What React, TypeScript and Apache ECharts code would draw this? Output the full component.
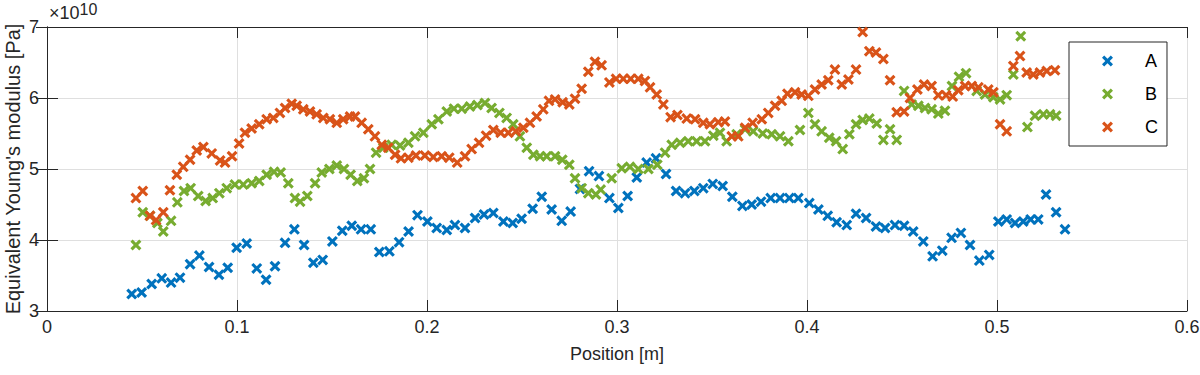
import React, { useEffect, useRef } from "react";
import * as echarts from "echarts";

const seriesNames = ["A", "B", "C"];
const seriesColors = ["#0072BD", "#77AC30", "#D95319"];
const xTicks = [0, 0.1, 0.2, 0.3, 0.4, 0.5, 0.6];
const yTicks = [3, 4, 5, 6, 7];
const yAxisTitle = "Equivalent Young's modulus [Pa]";
const xAxisTitle = "Position [m]";

const xA = [0.0446,0.0498,0.0551,0.0604,0.0653,0.0700,0.0753,0.0802,0.0853,0.0905,0.0951,0.0998,0.1051,0.1104,0.1153,0.1200,0.1253,0.1302,0.1353,0.1402,0.1451,0.1502,0.1554,0.1604,0.1653,0.1704,0.1749,0.1802,0.1853,0.1903,0.1950,0.2002,0.2051,0.2104,0.2147,0.2200,0.2253,0.2300,0.2349,0.2402,0.2451,0.2498,0.2556,0.2604,0.2656,0.2709,0.2756,0.2805,0.2853,0.2905,0.2960,0.3007,0.3056,0.3104,0.3156,0.3205,0.3258,0.3311,0.3358,0.3407,0.3454,0.3504,0.3556,0.3607,0.3660,0.3709,0.3758,0.3809,0.3858,0.3907,0.3954,0.4012,0.4060,0.4109,0.4156,0.4209,0.4258,0.4311,0.4363,0.4411,0.4463,0.4511,0.4559,0.4612,0.4661,0.4712,0.4761,0.4810,0.4858,0.4907,0.4959,0.5007,0.5051,0.5095,0.5138,0.5177,0.5217,0.5258,0.5311,0.5358];
const yA = [3.24,3.26,3.38,3.46,3.40,3.47,3.66,3.78,3.62,3.51,3.61,3.89,3.95,3.60,3.44,3.63,3.96,4.15,3.93,3.68,3.72,3.98,4.13,4.20,4.15,4.15,3.83,3.84,3.97,4.12,4.35,4.26,4.17,4.14,4.21,4.17,4.31,4.36,4.38,4.26,4.24,4.30,4.44,4.61,4.43,4.27,4.40,4.72,4.97,4.90,4.59,4.45,4.62,4.88,5.09,5.15,4.93,4.69,4.66,4.69,4.73,4.79,4.76,4.61,4.48,4.50,4.54,4.59,4.59,4.59,4.59,4.52,4.43,4.34,4.25,4.21,4.37,4.31,4.19,4.17,4.21,4.20,4.12,3.98,3.77,3.85,4.03,4.10,3.93,3.71,3.79,4.26,4.29,4.24,4.26,4.29,4.29,4.64,4.39,4.15];

const xB = [0.0468,0.0504,0.0542,0.0581,0.0612,0.0653,0.0686,0.0721,0.0756,0.0796,0.0835,0.0872,0.0907,0.0946,0.0989,0.1033,0.1077,0.1117,0.1156,0.1195,0.1230,0.1270,0.1305,0.1332,0.1370,0.1411,0.1446,0.1486,0.1525,0.1563,0.1598,0.1633,0.1668,0.1700,0.1732,0.1770,0.1814,0.1858,0.1902,0.1937,0.1981,0.2025,0.2060,0.2104,0.2142,0.2183,0.2226,0.2265,0.2305,0.2340,0.2381,0.2419,0.2454,0.2489,0.2525,0.2560,0.2595,0.2630,0.2674,0.2712,0.2749,0.2779,0.2814,0.2849,0.2889,0.2914,0.2972,0.3025,0.3068,0.3112,0.3165,0.3212,0.3253,0.3288,0.3332,0.3375,0.3419,0.3463,0.3507,0.3542,0.3577,0.3630,0.3674,0.3717,0.3767,0.3814,0.3858,0.3902,0.3963,0.4007,0.4042,0.4077,0.4117,0.4153,0.4188,0.4223,0.4258,0.4293,0.4328,0.4367,0.4402,0.4437,0.4472,0.4511,0.4551,0.4586,0.4621,0.4656,0.4691,0.4726,0.4763,0.4800,0.4837,0.4893,0.4937,0.4981,0.5016,0.5051,0.5086,0.5125,0.5160,0.5200,0.5244,0.5279,0.5311];
const yB = [3.93,4.39,4.34,4.24,4.12,4.27,4.53,4.69,4.73,4.62,4.55,4.59,4.66,4.73,4.78,4.78,4.80,4.83,4.92,4.96,4.95,4.80,4.59,4.54,4.62,4.80,4.95,5.00,5.05,5.00,4.92,4.83,4.87,5.00,5.23,5.30,5.34,5.33,5.37,5.46,5.51,5.63,5.70,5.81,5.85,5.85,5.88,5.90,5.93,5.86,5.79,5.72,5.63,5.46,5.30,5.20,5.18,5.18,5.18,5.13,5.06,4.87,4.73,4.66,4.64,4.71,4.87,5.01,5.03,5.00,5.00,5.06,5.23,5.34,5.37,5.39,5.39,5.39,5.47,5.51,5.39,5.49,5.56,5.53,5.50,5.49,5.46,5.39,5.55,5.79,5.63,5.53,5.44,5.39,5.28,5.49,5.63,5.69,5.71,5.64,5.41,5.56,5.41,6.10,5.91,5.89,5.86,5.84,5.78,5.82,6.17,6.30,6.35,6.10,6.05,6.01,5.98,6.04,6.33,6.87,5.59,5.75,5.77,5.77,5.75];

const xC = [0.0468,0.0504,0.0542,0.0574,0.0612,0.0647,0.0683,0.0717,0.0753,0.0788,0.0823,0.0867,0.0911,0.0937,0.0974,0.1011,0.1042,0.1077,0.1117,0.1156,0.1191,0.1226,0.1253,0.1288,0.1314,0.1349,0.1384,0.1419,0.1454,0.1489,0.1525,0.1559,0.1595,0.1621,0.1656,0.1691,0.1726,0.1762,0.1796,0.1832,0.1863,0.1902,0.1942,0.1989,0.2033,0.2077,0.2117,0.2159,0.2200,0.2235,0.2274,0.2311,0.2349,0.2388,0.2428,0.2468,0.2507,0.2542,0.2577,0.2612,0.2642,0.2674,0.2714,0.2749,0.2779,0.2814,0.2849,0.2884,0.2919,0.2960,0.2995,0.3033,0.3072,0.3112,0.3147,0.3174,0.3209,0.3244,0.3282,0.3318,0.3367,0.3411,0.3454,0.3489,0.3533,0.3568,0.3604,0.3638,0.3674,0.3714,0.3762,0.3796,0.3832,0.3867,0.3897,0.3937,0.3972,0.4007,0.4042,0.4077,0.4112,0.4147,0.4183,0.4218,0.4258,0.4293,0.4328,0.4363,0.4402,0.4437,0.4472,0.4511,0.4542,0.4581,0.4616,0.4656,0.4691,0.4732,0.4767,0.4796,0.4832,0.4867,0.4902,0.4954,0.4981,0.5016,0.5051,0.5086,0.5121,0.5156,0.5191,0.5226,0.5262,0.5305];
const yC = [4.59,4.69,4.34,4.28,4.39,4.70,4.92,5.03,5.13,5.26,5.31,5.22,5.12,5.09,5.18,5.36,5.51,5.57,5.63,5.70,5.72,5.79,5.86,5.92,5.89,5.84,5.81,5.77,5.72,5.70,5.65,5.70,5.74,5.74,5.65,5.56,5.46,5.34,5.30,5.20,5.15,5.16,5.19,5.19,5.17,5.18,5.16,5.09,5.18,5.28,5.37,5.47,5.55,5.51,5.51,5.53,5.58,5.65,5.74,5.84,5.96,5.98,5.94,5.91,5.99,6.13,6.37,6.51,6.46,6.22,6.27,6.27,6.27,6.27,6.24,6.15,6.05,5.91,5.73,5.76,5.71,5.70,5.65,5.63,5.66,5.67,5.46,5.46,5.58,5.65,5.70,5.79,5.89,5.96,6.06,6.08,6.05,6.03,6.12,6.19,6.25,6.40,6.19,6.26,6.40,6.93,6.66,6.64,6.55,6.25,5.80,5.81,6.00,6.12,6.19,6.17,6.04,6.04,6.02,6.11,6.17,6.17,6.15,6.12,6.08,5.63,5.53,6.45,6.59,6.36,6.33,6.36,6.38,6.39];

const SCALE = 1e10;
const crossPath =
  "path://M0,2 L2,0 L5,3 L8,0 L10,2 L7,5 L10,8 L8,10 L5,7 L2,10 L0,8 L3,5 Z";

const FONT = "'Liberation Sans', Arial, Helvetica, sans-serif";
const AXIS = "#262626";
const GRID = "#dfdfdf";

export default function App() {
  const ref = useRef<HTMLDivElement>(null);
  useEffect(() => {
    document.body.style.margin = "0";
    if (!ref.current) return;
    const chart = echarts.init(ref.current, undefined, { renderer: "svg" });
    const xs = [xA, xB, xC];
    const ys = [yA, yB, yC];
    const series = seriesNames.map((name, i) => ({
      name,
      type: "scatter",
      symbol: crossPath,
      symbolSize: 11,
      itemStyle: { color: seriesColors[i], opacity: 1 },
      data: xs[i].map((x, k) => [x, ys[i][k] * SCALE]),
      xAxisIndex: 0,
      yAxisIndex: 0,
    }));
    const tickLen = 11;
    chart.setOption({
      animation: false,
      textStyle: { fontFamily: FONT },
      grid: {
        left: 47,
        right: 13,
        top: 27,
        bottom: 64,
        containLabel: false,
        outerBoundsMode: "none",
        show: false,
      },
      legend: {
        orient: "vertical",
        left: 1069,
        top: 42,
        padding: [10, 9, 10, 33],
        itemGap: 15,
        itemWidth: 11,
        itemHeight: 11,
        icon: crossPath,
        backgroundColor: "#ffffff",
        borderColor: AXIS,
        borderWidth: 1,
        borderRadius: 0,
        textStyle: { fontSize: 18, color: "#000", fontFamily: FONT, padding: [0, 0, 0, 27] },
        data: seriesNames,
      },
      xAxis: [
        {
          type: "value",
          min: xTicks[0],
          max: xTicks[xTicks.length - 1],
          interval: 0.1,
          name: xAxisTitle,
          nameLocation: "middle",
          nameGap: 34,
          nameTextStyle: { fontSize: 18, color: AXIS, fontFamily: FONT },
          axisLine: { show: true, lineStyle: { color: AXIS, width: 1 } },
          axisTick: { show: true, inside: true, length: tickLen, lineStyle: { color: AXIS } },
          axisLabel: {
            fontSize: 18,
            color: AXIS,
            margin: 7,
            fontFamily: FONT,
            formatter: (v: number) => String(+v.toFixed(1)),
          },
          splitLine: { show: true, lineStyle: { color: GRID, width: 1 } },
        },
        {
          type: "value",
          position: "top",
          min: xTicks[0],
          max: xTicks[xTicks.length - 1],
          interval: 0.1,
          axisLine: { show: true, lineStyle: { color: AXIS, width: 1 } },
          axisTick: { show: true, inside: true, length: tickLen, lineStyle: { color: AXIS } },
          axisLabel: { show: false },
          splitLine: { show: false },
        },
      ],
      yAxis: [
        {
          type: "value",
          min: yTicks[0] * SCALE,
          max: yTicks[yTicks.length - 1] * SCALE,
          interval: SCALE,
          axisLine: { show: true, lineStyle: { color: AXIS, width: 1 } },
          axisTick: { show: true, inside: true, length: tickLen, lineStyle: { color: AXIS } },
          axisLabel: {
            fontSize: 18,
            color: AXIS,
            margin: 8,
            fontFamily: FONT,
            formatter: (v: number) => String(Math.round(v / SCALE)),
          },
          splitLine: { show: true, lineStyle: { color: GRID, width: 1 } },
        },
        {
          type: "value",
          position: "right",
          min: yTicks[0] * SCALE,
          max: yTicks[yTicks.length - 1] * SCALE,
          interval: SCALE,
          axisLine: { show: true, lineStyle: { color: AXIS, width: 1 } },
          axisTick: { show: true, inside: true, length: tickLen, lineStyle: { color: AXIS } },
          axisLabel: { show: false },
          splitLine: { show: false },
        },
      ],
      graphic: [
        {
          type: "text",
          x: 13,
          y: 169,
          rotation: Math.PI / 2,
          style: {
            text: yAxisTitle,
            font: `20px ${FONT}`,
            fill: AXIS,
            align: "center",
            verticalAlign: "middle",
          },
        },
        {
          type: "text",
          left: 49,
          top: 1,
          style: {
            text: "×10{sup|10}",
            font: `18px ${FONT}`,
            fill: AXIS,
            rich: {
              sup: { fontSize: 16, fontFamily: FONT, fill: AXIS, verticalAlign: "top", padding: [0, 0, 8, 0] },
            },
          },
        },
      ],
      series,
    });
    return () => chart.dispose();
  }, []);
  return (
    <div
      ref={ref}
      style={{ width: 1200, height: 375, position: "absolute", left: 0, top: 0 }}
    />
  );
}
